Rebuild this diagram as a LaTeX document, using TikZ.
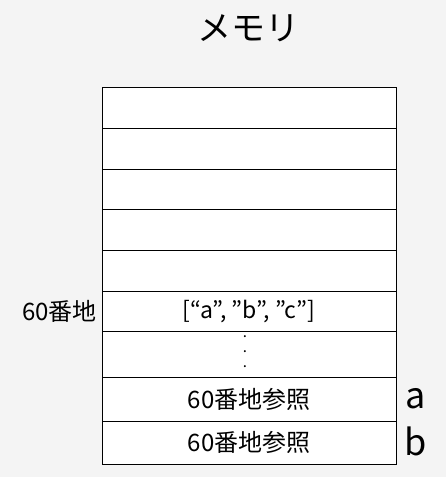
\documentclass[tikz,border=0pt]{standalone}
\usepackage{fontspec}
\setmainfont{Noto Sans CJK JP}
\usetikzlibrary{positioning}
\definecolor{bg}{HTML}{F4F4F4}

\begin{document}
\begin{tikzpicture}[x=1pt,y=-1pt,
  cell/.style={draw, line width=1pt, fill=white, minimum width=294pt, inner sep=0pt, font=\fontsize{24}{28}\selectfont},
  lab/.style={inner sep=0pt, font=\fontsize{24}{28}\selectfont},
  var/.style={inner sep=0pt, font=\fontsize{36}{40}\selectfont}]
  \fill[bg] (0,0) rectangle (446,477);
  \useasboundingbox (0,0) rectangle (446,477);

  \node (title) at (248,28) {\fontsize{34}{38}\selectfont メモリ};

  % memory rows
  \node[cell, minimum height=40.7pt] (r1) at (249,108.3) {};
  \node[cell, minimum height=40.7pt] (r2) at (249,149) {};
  \node[cell, minimum height=40.7pt] (r3) at (249,189.7) {};
  \node[cell, minimum height=40.7pt] (r4) at (249,230.3) {};
  \node[cell, minimum height=40.7pt] (r5) at (249,271) {};
  \node[cell, minimum height=40pt, font=\fontsize{23}{26}\selectfont] (list) at (249,311.3) {[“a”, ”b”, ”c”]};
  \node[cell, minimum height=46.4pt] (gap) at (249,354.5) {};
  \node[cell, minimum height=43.6pt] (refa) at (249,399.5) {60番地参照};
  \node[cell, minimum height=42.7pt] (refb) at (249,442.7) {60番地参照};

  \node[inner sep=0pt, align=center, font=\fontsize{15}{15}\selectfont] (dots) at (245,352) {.\\.\\.};

  \node[lab, anchor=east] (addr) at (97,311.3) {60番地};
  \node[var] (a) at (416,399) {a};
  \node[var] (b) at (416,441) {b};
\end{tikzpicture}
\end{document}
